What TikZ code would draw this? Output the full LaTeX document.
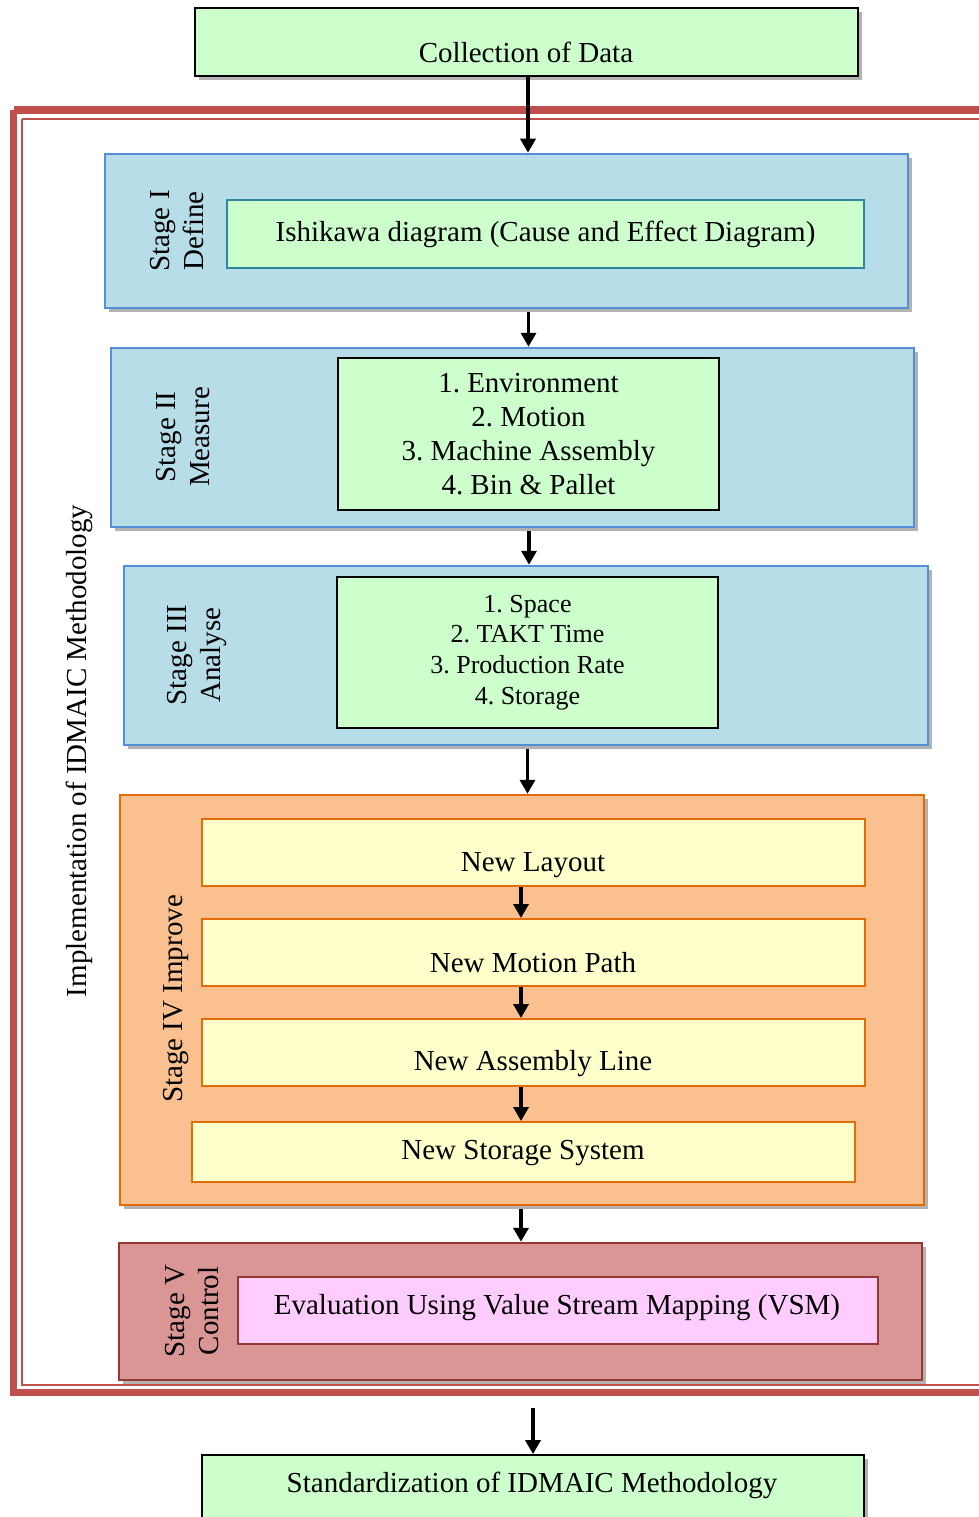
\documentclass[tikz,border=0pt]{standalone}
\usepackage{fontspec}
\setmainfont{Liberation Serif}
\usetikzlibrary{arrows.meta,calc,shadows}
\definecolor{boxgreen}{HTML}{CCFFCC}
\definecolor{stageblue}{HTML}{B7DEE8}
\definecolor{borderblue}{HTML}{558ED5}
\definecolor{tealborder}{HTML}{31859C}
\definecolor{stageorange}{HTML}{FAC090}
\definecolor{borderorange}{HTML}{E36C09}
\definecolor{lightyellow}{HTML}{FFFFCC}
\definecolor{stagered}{HTML}{D99694}
\definecolor{borderred}{HTML}{953735}
\definecolor{lightpink}{HTML}{FFCCFF}
\definecolor{framered}{HTML}{C0504D}
\frenchspacing
\begin{document}
\begin{tikzpicture}[x=1pt,y=-1pt,
  font=\fontsize{29}{34}\selectfont,
  shadowed/.style={drop shadow={shadow xshift=4pt,shadow yshift=-4pt,fill=black,opacity=0.3}},
  box/.style={draw,rectangle,inner sep=0pt,align=center},
  greenbox/.style={box,fill=boxgreen,draw=black,line width=1.8pt},
  bluestage/.style={box,fill=stageblue,draw=borderblue,line width=2.5pt,shadowed},
  orangestage/.style={box,fill=stageorange,draw=borderorange,line width=2.5pt,shadowed},
  redstage/.style={box,fill=stagered,draw=borderred,line width=2.5pt,shadowed},
  yellowbox/.style={box,fill=lightyellow,draw=borderorange,line width=2pt},
  pinkbox/.style={box,fill=lightpink,draw=borderred,line width=2pt},
  listbox/.style={box,fill=boxgreen,draw=black,line width=1.8pt},
  stagelabel/.style={rotate=90,align=center,inner sep=0pt},
  txt/.style={inner sep=0pt},
  arr/.style={line width=3.6pt,-{Triangle[length=14pt,width=15pt]}}
]
\useasboundingbox (0,0) rectangle (978,1517);

% outer frame
\draw[framered,line width=7.5pt] (13.5,110) -- (1000,110);
\draw[framered,line width=7.5pt] (13.5,110) -- (13.5,1392.5) -- (1000,1392.5);
\draw[framered,line width=2pt] (22,119) -- (1000,119);
\draw[framered,line width=2pt] (22,119) -- (22,1385) -- (1000,1385);

\node[stagelabel] (impl) at (79,751) {Implementation of IDMAIC Methodology};

% top and bottom boxes
\node[greenbox,shadowed,minimum width=663pt,minimum height=68pt] (coll) at (526.5,42) {};
\node[txt] (collt) at (526,52) {Collection of Data};
\node[greenbox,shadowed,minimum width=662pt,minimum height=90pt] (std) at (533,1500) {};
\node[txt] (stdt) at (532,1485) {Standardization of IDMAIC Methodology};

% Stage I
\node[bluestage,minimum width=803pt,minimum height=154pt] (s1) at (506.5,231) {};
\node[stagelabel] (s1l) at (177,231) {Stage I\\Define};
\node[box,fill=boxgreen,draw=tealborder,line width=2pt,minimum width=637pt,minimum height=68pt] (ish) at (545.5,234) {Ishikawa diagram (Cause and Effect Diagram)};

% Stage II
\node[bluestage,minimum width=803pt,minimum height=179pt] (s2) at (512.5,437.5) {};
\node[stagelabel] (s2l) at (183,437) {Stage II\\Measure};
\node[listbox,minimum width=381pt,minimum height=152pt] (m2) at (528.5,434) {1. Environment\\2. Motion\\3. Machine Assembly\\4. Bin \& Pallet};

% Stage III
\node[bluestage,minimum width=804pt,minimum height=179pt] (s3) at (526,655.5) {};
\node[stagelabel] (s3l) at (197,655) {Stage III\\Analyse};
\node[listbox,minimum width=381pt,minimum height=151pt,font=\fontsize{26}{30.7}\selectfont] (a3) at (527.5,652.5) {1. Space\\2. TAKT Time\\3. Production Rate\\4. Storage};

% Stage IV
\node[orangestage,minimum width=804pt,minimum height=410pt] (s4) at (522,1000) {};
\node[stagelabel] (s4l) at (176,999) {Stage IV Improve};
\node[yellowbox,minimum width=663pt,minimum height=67pt] (i1) at (533.5,852.5) {};
\node[txt] (i1t) at (533,865) {New Layout};
\node[yellowbox,minimum width=663pt,minimum height=67pt] (i2) at (533.5,952.5) {};
\node[txt] (i2t) at (533,963) {New Motion Path};
\node[yellowbox,minimum width=663pt,minimum height=67pt] (i3) at (533.5,1052.5) {};
\node[txt] (i3t) at (533,1064) {New Assembly Line};
\node[yellowbox,minimum width=663pt,minimum height=60pt] (i4) at (523.5,1152) {};
\node[txt] (i4t) at (523,1153) {New Storage System};

% Stage V
\node[redstage,minimum width=803pt,minimum height=137pt] (s5) at (520.5,1311.5) {};
\node[stagelabel] (s5l) at (192,1311) {Stage V\\Control};
\node[pinkbox,minimum width=640pt,minimum height=67pt] (v1) at (558,1310.5) {};
\node[txt] (v1t) at (557,1308) {Evaluation Using Value Stream Mapping (VSM)};

% arrows
\draw[arr] ([xshift=1.5pt]coll.south) -- ([xshift=1.5pt]coll.south |- s1.north);
\draw[arr] ([yshift=-3pt]s1.south -| m2.north) -- (s2.north -| m2.north);
\draw[arr] ([yshift=-3pt,xshift=1.5pt]s2.south -| a3.north) -- ([xshift=1.5pt]s3.north -| a3.north);
\draw[arr] ([yshift=-3pt]s3.south -| a3.north) -- (s4.north -| a3.north);
\draw[arr] ([xshift=-12.5pt]i1.south) -- ([xshift=-12.5pt]i2.north);
\draw[arr] ([xshift=-12.5pt]i2.south) -- ([xshift=-12.5pt]i3.north);
\draw[arr] ([xshift=-12.5pt]i3.south) -- ([xshift=-12.5pt]i3.south |- i4.north);
\draw[arr] ([yshift=-3pt,xshift=-1pt]s4.south) -- ([xshift=-1pt]s4.south |- s5.north);
\coordinate (s5out) at ([yshift=-27pt]s5.south -| std.north);
\draw[arr] (s5out) -- (std.north);
\end{tikzpicture}
\end{document}
